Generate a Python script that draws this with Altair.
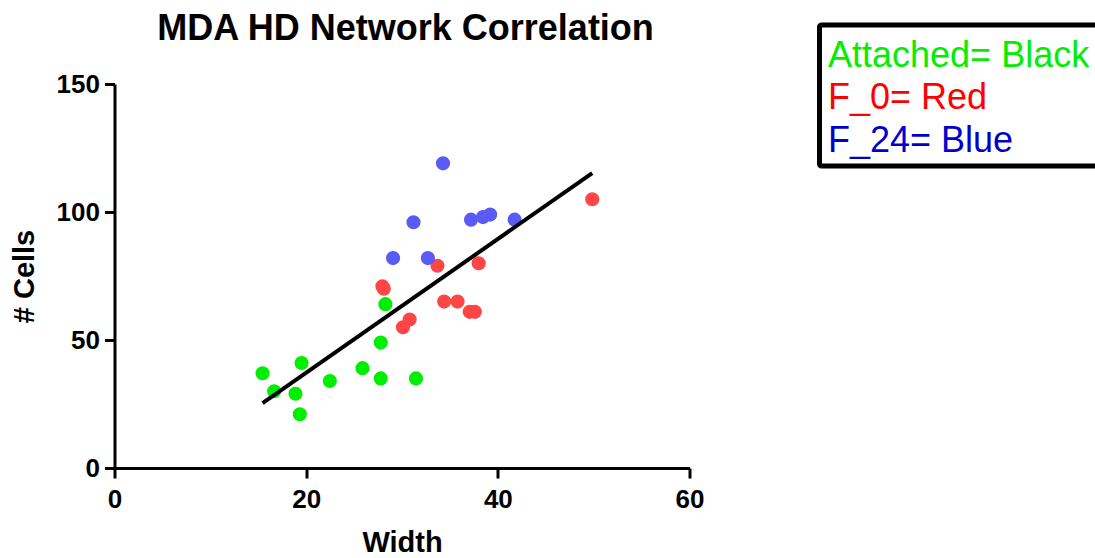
import altair as alt
import pandas as pd

# ---- data ----
attached_x = [15.45, 16.66, 19.52, 18.89, 19.34, 22.47, 25.88, 27.78, 27.78, 28.27, 31.46]
attached_y = [37, 30, 41, 29, 21, 34, 39, 35, 49, 64, 35]

f0_x = [27.96, 28.1, 30.1, 30.8, 33.7, 34.4, 35.8, 37.06, 37.6, 38.0, 49.85]
f0_y = [71, 70, 55, 58, 79, 65, 65, 61, 61, 80, 105]

f24_x = [34.28, 31.2, 29.07, 32.7, 37.2, 38.45, 39.2, 41.75]
f24_y = [119, 96, 82, 82, 97, 98, 99, 97]

groups = ["Attached", "F_0", "F_24"]
group_colors = ["#00ee00", "#ff4545", "#5a5af5"]

legend_lines = ["Attached= Black", "F_0= Red", "F_24= Blue"]
legend_colors = ["#00ee00", "#ff0000", "#0000cc"]

title_text = "MDA HD Network Correlation"

x_ticks = [0, 20, 40, 60]
y_ticks = [0, 50, 100, 150]

rows = []
for g, xs, ys in zip(groups, [attached_x, f0_x, f24_x], [attached_y, f0_y, f24_y]):
    for a, b in zip(xs, ys):
        rows.append({"x": a, "y": b, "group": g})
df = pd.DataFrame(rows)

FONT = "Liberation Sans"

xscale = alt.Scale(domain=[0, 60], nice=False)
yscale = alt.Scale(domain=[0, 150], nice=False)

base = alt.Chart(df)

points = base.mark_circle(size=200, opacity=1).encode(
    x=alt.X("x:Q", scale=xscale,
            axis=alt.Axis(values=x_ticks, title="Width", titleY=83,
                          titleBaseline="alphabetic", labelPadding=8,
                          labelFlush=False)),
    y=alt.Y("y:Q", scale=yscale,
            axis=alt.Axis(values=y_ticks, title="# Cells", titleX=-81.5,
                          titleBaseline="alphabetic", labelPadding=5,
                          labelFlush=False)),
    color=alt.Color("group:N", scale=alt.Scale(domain=groups, range=group_colors),
                    legend=None),
)

fit = base.transform_regression("x", "y").mark_line(
    color="black", strokeWidth=4
).encode(x=alt.X("x:Q", scale=xscale), y=alt.Y("y:Q", scale=yscale))

box = alt.Chart(pd.DataFrame({"a": [0]})).mark_rect(
    fill="white", stroke="black", strokeWidth=5, cornerRadius=2
).encode(
    x=alt.value(705), x2=alt.value(1000),
    y=alt.value(-59), y2=alt.value(82),
)

legend_text = []
for i, (lab, col) in enumerate(zip(legend_lines, legend_colors)):
    legend_text.append(
        alt.Chart(pd.DataFrame({"label": [lab]})).mark_text(
            align="left", baseline="alphabetic", font=FONT, fontSize=36, color=col
        ).encode(
            x=alt.value(713.5),
            y=alt.value(-17.3 + 42.7 * i),
            text="label:N",
        )
    )

title = alt.Chart(pd.DataFrame({"t": [title_text]})).mark_text(
    align="center", baseline="alphabetic", font=FONT, fontSize=36,
    fontWeight="bold", color="black",
).encode(x=alt.value(291), y=alt.value(-44), text="t:N")

chart = alt.layer(points, fit, box, *legend_text, title).properties(
    width=575,
    height=384,
    autosize=alt.AutoSizeParams(type="none"),
    padding={"left": 114.5, "top": 84, "right": 405.5, "bottom": 90},
    background="white",
).configure_axis(
    grid=False,
    domainColor="black",
    domainWidth=3,
    tickColor="black",
    tickWidth=3,
    tickSize=10,
    labelFont=FONT,
    labelFontSize=26,
    labelFontWeight="bold",
    labelColor="black",
    titleFont=FONT,
    titleFontSize=29,
    titleFontWeight="bold",
    titleColor="black",
).configure_view(
    stroke="transparent"
)

chart.save("out.html", embed_options={"renderer": "svg", "actions": False})
